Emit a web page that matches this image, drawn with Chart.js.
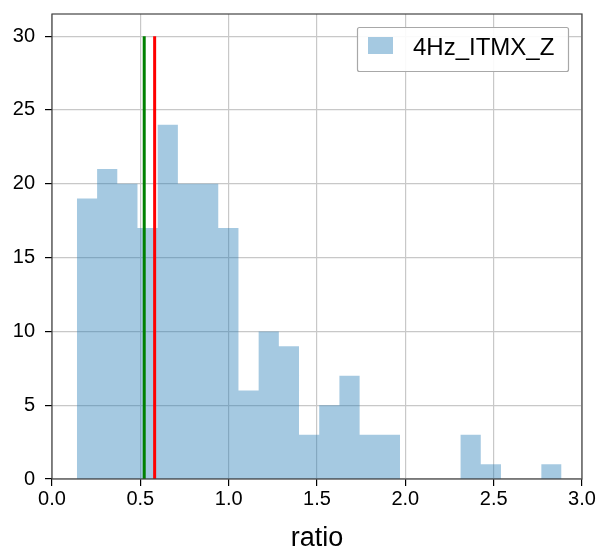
<!DOCTYPE html>
<html>
<head>
<meta charset="utf-8">
<script src="https://cdn.jsdelivr.net/npm/chart.js@4/dist/chart.umd.min.js"></script>
<style>
  html, body { margin: 0; padding: 0; background: #fff; }
  #wrap { width: 598px; height: 550px; }
</style>
</head>
<body>
<div id="wrap"><canvas id="c" width="598" height="550"></canvas></div>
<script>
// Histogram of the ratio for 4Hz_ITMX_Z, 24 equal-width bins
const seriesLabel = '4Hz_ITMX_Z';
const binStart = 0.141;
const binWidth = 0.1143;
const binCounts = [19, 21, 20, 17, 24, 20, 20, 17, 6, 10, 9, 3, 5, 7, 3, 3, 0, 0, 0, 3, 1, 0, 0, 1];
// reference markers (vertical lines)
const medianRatio = 0.522;
const meanRatio = 0.581;
const markerTop = 30;
const xTicks = [0, 0.5, 1.0, 1.5, 2.0, 2.5, 3.0];
const yTicks = [0, 5, 10, 15, 20, 25, 30];

// Step outline: one point per bin edge, each bin's count held until the next edge
const histSteps = binCounts.map((c, i) => ({ x: binStart + i * binWidth, y: c }));
histSteps.push({ x: binStart + binCounts.length * binWidth, y: binCounts[binCounts.length - 1] });

const FONT = '"Liberation Sans", Arial, sans-serif';
const HIST_COLOR = 'rgba(31,119,180,0.4)';

// Frame around plot area plus matplotlib-style legend box
const framePlugin = {
  id: 'frame',
  afterDatasetsDraw(chart) {
    const { ctx, chartArea: a } = chart;
    const hist = chart.data.datasets.find(d => d.label === seriesLabel);
    ctx.save();
    ctx.strokeStyle = '#444';
    ctx.lineWidth = 1.2;
    ctx.strokeRect(a.left, a.top, a.right - a.left, a.bottom - a.top);

    // legend
    const bx = 357.5, by = 27.5, bw = 211, bh = 44;
    ctx.fillStyle = 'rgba(255,255,255,0.9)';
    ctx.strokeStyle = '#a8a8a8';
    ctx.lineWidth = 1.2;
    ctx.beginPath();
    if (ctx.roundRect) ctx.roundRect(bx, by, bw, bh, 2); else ctx.rect(bx, by, bw, bh);
    ctx.fill();
    ctx.stroke();
    ctx.fillStyle = hist.backgroundColor;
    ctx.fillRect(368, 37, 25, 17);
    ctx.fillStyle = '#000';
    ctx.font = '24px ' + FONT;
    ctx.textBaseline = 'alphabetic';
    ctx.textAlign = 'left';
    ctx.fillText(hist.label, 413, 55);
    ctx.restore();
  }
};

new Chart(document.getElementById('c'), {
  type: 'line',
  data: {
    datasets: [
      {
        label: 'median',
        data: [{ x: medianRatio, y: 0 }, { x: medianRatio, y: markerTop }],
        borderColor: '#008000',
        borderWidth: 3,
        pointRadius: 0,
        fill: false,
        order: 1
      },
      {
        label: 'mean',
        data: [{ x: meanRatio, y: 0 }, { x: meanRatio, y: markerTop }],
        borderColor: '#ff0000',
        borderWidth: 3,
        pointRadius: 0,
        fill: false,
        order: 0
      },
      {
        label: seriesLabel,
        data: histSteps,
        stepped: 'before',
        fill: 'origin',
        backgroundColor: HIST_COLOR,
        borderColor: 'rgba(0,0,0,0)',
        borderWidth: 0,
        pointRadius: 0,
        order: 3
      }
    ]
  },
  options: {
    responsive: false,
    animation: false,
    devicePixelRatio: 1,
    layout: { padding: { top: 14, right: 16, left: 0, bottom: 0 } },
    plugins: {
      legend: { display: false },
      tooltip: { enabled: false },
      filler: { propagate: false }
    },
    scales: {
      x: {
        type: 'linear',
        min: 0,
        max: 3,
        offset: false,
        afterBuildTicks: s => { s.ticks = xTicks.map(v => ({ value: v })); },
        afterFit: s => { s.height = 71; s.paddingLeft = 0; s.paddingRight = 0; },
        ticks: {
          color: '#000',
          font: { family: FONT, size: 20 },
          padding: 1,
          maxRotation: 0,
          callback: v => Number(v).toFixed(1)
        },
        grid: {
          color: '#c8c8c8',
          lineWidth: 1.2,
          offset: false,
          drawTicks: true,
          tickLength: 7,
          tickColor: '#000'
        },
        border: { display: false },
        title: {
          display: true,
          text: 'ratio',
          color: '#000',
          font: { family: FONT, size: 27 },
          padding: { top: 0, bottom: -5 }
        }
      },
      y: {
        type: 'linear',
        min: 0,
        max: 31.5,
        afterBuildTicks: s => { s.ticks = yTicks.map(v => ({ value: v })); },
        afterFit: s => { s.width = 52; s.paddingTop = 0; s.paddingBottom = 0; },
        ticks: {
          color: '#000',
          font: { family: FONT, size: 20 },
          padding: 10,
          callback: v => String(v)
        },
        grid: {
          color: '#c8c8c8',
          lineWidth: 1.2,
          drawTicks: true,
          tickLength: 7,
          tickColor: '#000'
        },
        border: { display: false }
      }
    }
  },
  plugins: [framePlugin]
});
</script>
</body>
</html>
